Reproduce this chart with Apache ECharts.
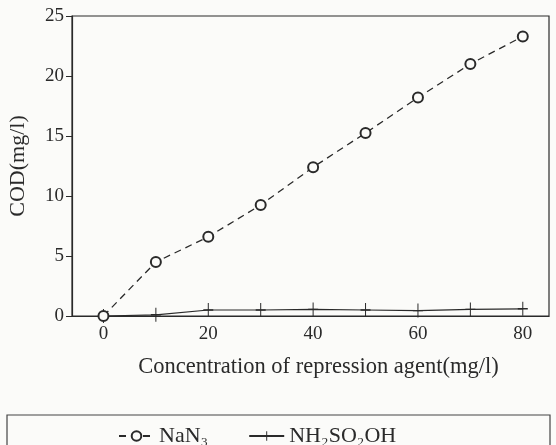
<!DOCTYPE html>
<html>
<head>
<meta charset="utf-8">
<script src="https://cdn.jsdelivr.net/npm/echarts@6/dist/echarts.min.js"></script>
<style>
  html, body { margin: 0; padding: 0; background: #fbfbf9; }
  #chart { width: 556px; height: 445px; }
</style>
</head>
<body>
<div id="chart"></div>
<script>
// concentration of repression agent (mg/l)
const concentration = [0, 10, 20, 30, 40, 50, 60, 70, 80]
// COD (mg/l)
const codNaN3 = [0, 4.5, 6.6, 9.25, 12.4, 15.25, 18.2, 21, 23.3]
const codNH2SO2OH = [0, 0.1, 0.5, 0.5, 0.55, 0.5, 0.45, 0.55, 0.6]
const xTicks = [0, 20, 40, 60, 80]

const ink = '#2a2a2a'
const serif = 'Liberation Serif'
const plusPath = 'path://M-0.1,-1L0.1,-1L0.1,-0.1L1,-0.1L1,0.1L0.1,0.1L0.1,1L-0.1,1L-0.1,0.1L-1,0.1L-1,-0.1L-0.1,-0.1Z'

const chart = echarts.init(document.getElementById('chart'))

chart.setOption({
  backgroundColor: '#fbfbf9',
  animation: false,
  textStyle: { fontFamily: serif, color: ink },
  grid: {
    left: 72, right: 7, top: 16, bottom: 129,
    outerBoundsMode: 'none',
    containLabel: false,
    show: true, borderColor: ink, borderWidth: 1.2
  },
  xAxis: {
    type: 'value',
    min: -6,
    max: 85,
    name: 'Concentration of repression agent(mg/l)',
    nameLocation: 'middle',
    nameGap: 40,
    nameTextStyle: { fontSize: 22.5, color: ink, padding: [0, 0, 0, 16] },
    axisLine: { onZero: false, lineStyle: { color: ink, width: 1.2 } },
    axisTick: { show: false },
    axisLabel: { customValues: xTicks, fontSize: 19, color: ink, margin: 9 },
    splitLine: { show: false }
  },
  yAxis: {
    type: 'value',
    min: 0,
    max: 25,
    interval: 5,
    name: 'COD(mg/l)',
    nameLocation: 'middle',
    nameGap: 43,
    nameTextStyle: { fontSize: 22, color: ink },
    axisLine: { show: true, onZero: false, lineStyle: { color: ink, width: 1.2 } },
    axisTick: { show: true, length: 6, lineStyle: { color: ink } },
    axisLabel: { fontSize: 19, color: ink, margin: 8 },
    splitLine: { show: false }
  },
  legend: {
    left: 113,
    top: 420,
    itemWidth: 35,
    itemHeight: 12,
    itemGap: 40,
    textStyle: { fontSize: 22, color: ink, fontFamily: serif },
    data: ['NaN₃', 'NH₂SO₂OH']
  },
  graphic: [{
    type: 'rect',
    shape: { x: 7, y: 415, width: 543, height: 40 },
    style: { fill: 'none', stroke: '#444', lineWidth: 1.2 },
    silent: true
  }],
  series: [
    {
      name: 'NH₂SO₂OH',
      type: 'line',
      data: concentration.map((c, i) => [c, codNH2SO2OH[i]]),
      symbol: plusPath,
      symbolSize: [10, 14],
      itemStyle: { color: ink },
      lineStyle: { color: ink, width: 1.2 },
      z: 2
    },
    {
      name: 'NaN₃',
      type: 'line',
      data: concentration.map((c, i) => [c, codNaN3[i]]),
      symbol: 'circle',
      symbolSize: 10,
      itemStyle: { color: '#fbfbf9', borderColor: ink, borderWidth: 2 },
      lineStyle: { color: ink, width: 1.3, type: [7, 5] },
      z: 3
    }
  ]
})
</script>
</body>
</html>
